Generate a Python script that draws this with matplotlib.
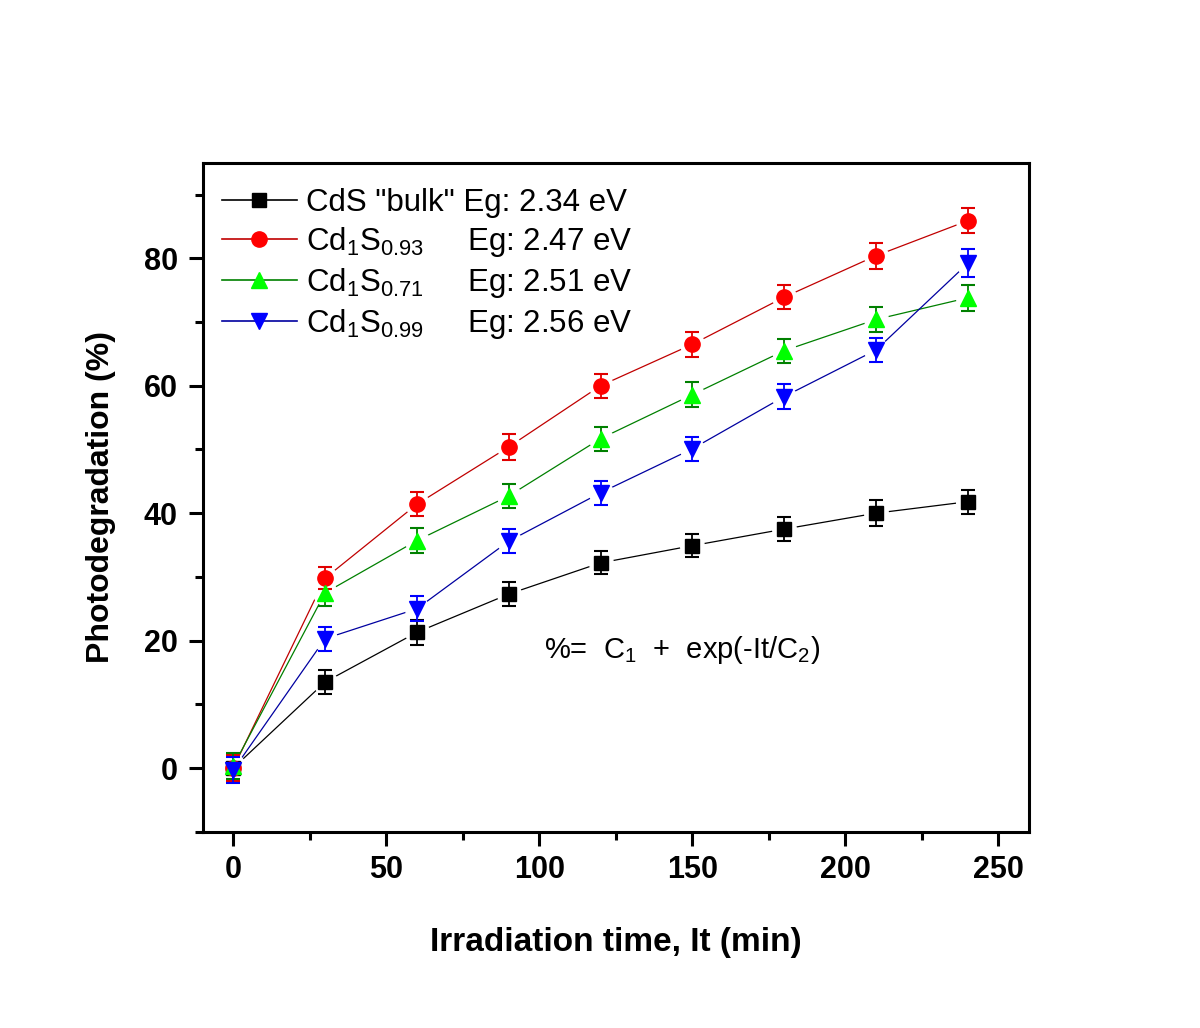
import matplotlib
matplotlib.use("Agg")
import matplotlib.pyplot as plt
from matplotlib.lines import Line2D
from matplotlib.ticker import MultipleLocator

plt.rcParams['font.family'] = ['Liberation Sans', 'DejaVu Sans']
plt.rcParams['mathtext.fontset'] = 'custom'
plt.rcParams['mathtext.rm'] = 'Liberation Sans'
plt.rcParams['mathtext.it'] = 'Liberation Sans'
plt.rcParams['mathtext.bf'] = 'Liberation Sans:bold'

# ---- data ----
time_min = [0, 30, 60, 90, 120, 150, 180, 210, 240]
cds_bulk = [0.0, 13.5, 21.3, 27.3, 32.2, 34.9, 37.5, 40.0, 41.8]
cds_093 = [0.0, 29.8, 41.4, 50.4, 60.0, 66.5, 73.9, 80.4, 85.9]
cds_071 = [0.3, 27.5, 35.7, 42.7, 51.7, 58.6, 65.5, 70.4, 73.8]
cds_099 = [-0.3, 20.3, 25.0, 35.6, 43.2, 50.1, 58.3, 65.6, 79.2]
err_bulk = [2.0, 1.9, 2.0, 1.9, 1.8, 1.8, 1.9, 2.0, 1.9]
err_093 = [2.0, 1.7, 1.9, 2.0, 1.9, 2.0, 1.9, 2.0, 2.0]
err_071 = [2.0, 2.1, 2.0, 1.9, 1.9, 2.0, 1.9, 2.0, 2.0]
err_099 = [2.0, 1.9, 2.0, 1.9, 1.9, 1.9, 1.9, 1.9, 2.2]

labels = [
    'CdS "bulk" Eg: 2.34 eV',
    'Cd$_1$S$_{0.93}$     Eg: 2.47 eV',
    'Cd$_1$S$_{0.71}$     Eg: 2.51 eV',
    'Cd$_1$S$_{0.99}$     Eg: 2.56 eV',
]
series = [cds_bulk, cds_093, cds_071, cds_099]
errors = [err_bulk, err_093, err_071, err_099]
markers = ['s', 'o', '^', 'v']
marker_colors = ['#000000', '#ff0000', '#00ff00', '#0000ff']
line_colors = ['#000000', '#c00000', '#008000', '#0000a0']
err_colors = ['#000000', '#e00000', '#008000', '#0000ff']
msizes = [10, 11, 12, 12]

fig = plt.figure(figsize=(12, 10.28), dpi=100)
ax = fig.add_axes([0.1689, 0.1909, 0.6886, 0.6508])

handles = []
for y, e, m, mc, lc, ec, ms, lab in zip(series, errors, markers, marker_colors,
                                          line_colors, err_colors, msizes, labels):
    ax.plot(time_min, y, color=lc, lw=0.9, zorder=2)
    ax.plot(time_min, y, linestyle='none', marker='o', ms=17, mfc='white',
            mec='white', zorder=3)
    ax.errorbar(time_min, y, yerr=e, fmt='none', ecolor=ec, elinewidth=1.3,
                capsize=5, capthick=1.5, zorder=4)
    ax.plot(time_min, y, linestyle='none', marker=m, ms=ms, mfc=mc, mec=mc,
            zorder=5)
    handles.append(Line2D([], [], color=lc, lw=1.2, marker=m, ms=ms, mfc=mc,
                          mec=mc, label=lab))

ax.set_xlim(-10, 260)
ax.set_ylim(-10, 95)
ax.xaxis.set_major_locator(MultipleLocator(50))
ax.xaxis.set_minor_locator(MultipleLocator(25))
ax.yaxis.set_major_locator(MultipleLocator(20))
ax.yaxis.set_minor_locator(MultipleLocator(10))

for sp in ax.spines.values():
    sp.set_linewidth(2.2)
ax.tick_params(which='major', direction='out', length=10, width=2.2,
               labelsize=22, top=False, right=False)
ax.tick_params(which='minor', direction='out', length=5.5, width=2.2,
               top=False, right=False)
ax.tick_params(axis='y', which='major', pad=8)
ax.tick_params(axis='x', which='major', pad=7)
for lbl in ax.get_xticklabels() + ax.get_yticklabels():
    lbl.set_fontweight('bold')

ax.set_xlabel('Irradiation time, It (min)', fontsize=24, fontweight='bold',
              labelpad=30)
ax.set_ylabel('Photodegradation (%)', fontsize=23, fontweight='bold',
              labelpad=20)

leg = ax.legend(handles=handles, loc='upper left',
                bbox_to_anchor=(0.023, 0.962), frameon=False, fontsize=22.5,
                handlelength=2.4, handletextpad=0.3, labelspacing=0.22,
                borderpad=0, borderaxespad=0)

ax.text(146.5, 18.5, '%=  C$_1$  +  exp(-It/C$_2$)', fontsize=21,
        ha='center', va='center')

fig.savefig('out.png', dpi=100)
